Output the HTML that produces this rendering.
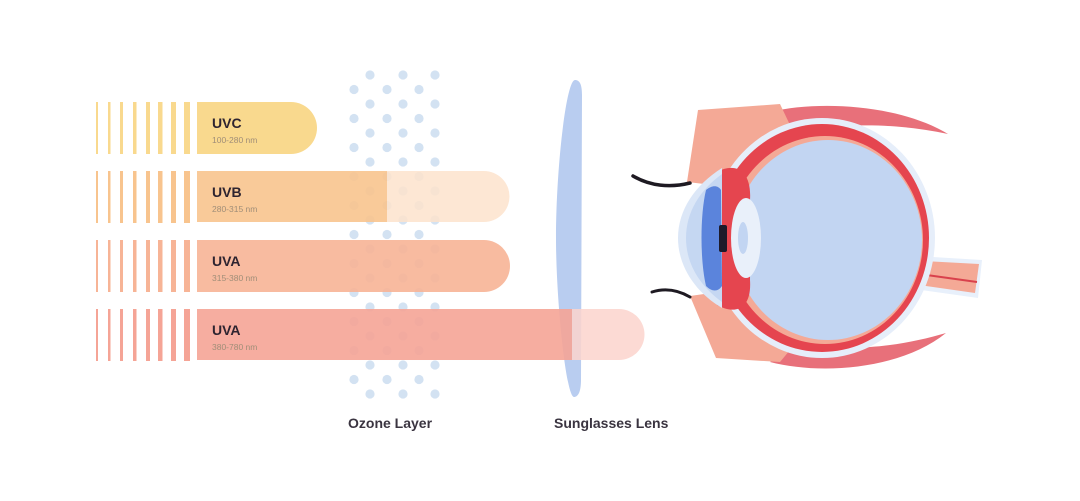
<!DOCTYPE html>
<html><head><meta charset="utf-8"><style>
html,body{margin:0;padding:0;background:#fff;}
svg{display:block;}
text{font-family:"Liberation Sans",sans-serif;}
</style></head><body>
<svg width="1080" height="501" viewBox="0 0 1080 501" xmlns="http://www.w3.org/2000/svg">
<rect width="1080" height="501" fill="#fff"/>
<defs>
<g id="stripes">
<rect x="96" width="2" height="52"/>
<rect x="108" width="2.5" height="52"/>
<rect x="120" width="3" height="52"/>
<rect x="133" width="3.5" height="52"/>
<rect x="146" width="4" height="52"/>
<rect x="158" width="4.5" height="52"/>
<rect x="171" width="5" height="52"/>
<rect x="184" width="6" height="52"/>
</g>
<g id="rowA"><circle cx="370" cy="0" r="4.6"/><circle cx="403" cy="0" r="4.6"/><circle cx="435" cy="0" r="4.6"/></g>
<g id="rowB"><circle cx="354" cy="0" r="4.6"/><circle cx="387" cy="0" r="4.6"/><circle cx="419" cy="0" r="4.6"/></g>
</defs>
<!-- ozone dots -->
<g fill="#d3e2f2">
<use href="#rowA" y="75"/><use href="#rowB" y="89.5"/>
<use href="#rowA" y="104"/><use href="#rowB" y="118.5"/>
<use href="#rowA" y="133"/><use href="#rowB" y="147.5"/>
<use href="#rowA" y="162"/><use href="#rowB" y="176.5"/>
<use href="#rowA" y="191"/><use href="#rowB" y="205.5"/>
<use href="#rowA" y="220"/><use href="#rowB" y="234.5"/>
<use href="#rowA" y="249"/><use href="#rowB" y="263.5"/>
<use href="#rowA" y="278"/><use href="#rowB" y="292.5"/>
<use href="#rowA" y="307"/><use href="#rowB" y="321.5"/>
<use href="#rowA" y="336"/><use href="#rowB" y="350.5"/>
<use href="#rowA" y="365"/><use href="#rowB" y="379.5"/>
<use href="#rowA" y="394"/>
</g>
<!-- lens -->
<path d="M575 80 C580 80 582 85 582 95 L581 380 C581 392 578 397 574 397 C566 397 556 300 556 238 C556 170 566 80 575 80 Z" fill="#b9cdf0"/>
<!-- UVC -->
<g fill="#f9d98e" transform="translate(0,102)"><use href="#stripes"/></g>
<path d="M197 102 H291 A26 26 0 0 1 291 154 H197 Z" fill="#f9d98e"/>
<!-- UVB -->
<g fill="#f8c48e" transform="translate(0,171)"><use href="#stripes"/></g>
<path d="M387 171 H484 A25.5 25.5 0 0 1 484 222 H387 Z" fill="#fde3cc" opacity="0.85"/>
<rect x="197" y="171" width="190" height="51" fill="#f8c48e" opacity="0.9"/>
<!-- UVA -->
<g fill="#f7b496" transform="translate(0,240)"><use href="#stripes"/></g>
<path d="M197 240 H484 A26 26 0 0 1 484 292 H197 Z" fill="#f7b496" opacity="0.9"/>
<!-- UVA 2 -->
<g fill="#f5a496" transform="translate(0,309)"><use href="#stripes"/></g>
<path d="M572 309 H619 A25.5 25.5 0 0 1 619 360 H572 Z" fill="#fbd3cd" opacity="0.85"/>
<rect x="197" y="309" width="375" height="51" fill="#f5a496" opacity="0.9"/>
<!-- labels -->
<g fill="#2e2430" font-weight="bold">
<text x="212" y="128" font-size="14">UVC</text>
<text x="212" y="197" font-size="14">UVB</text>
<text x="212" y="266" font-size="14">UVA</text>
<text x="212" y="335" font-size="14">UVA</text>
</g>
<g fill="#a08e78" font-size="8.5">
<text x="212" y="143">100-280 nm</text>
<text x="212" y="212">280-315 nm</text>
<text x="212" y="281">315-380 nm</text>
<text x="212" y="350">380-780 nm</text>
</g>
<text x="348" y="428" font-size="14" font-weight="bold" fill="#3a3440">Ozone Layer</text>
<text x="554" y="428" font-size="14" font-weight="bold" fill="#3a3440">Sunglasses Lens</text>
<!-- eye -->
<path d="M770 112 C820 100 900 105 948 134 C905 125 860 122 800 130 Z" fill="#e8707a"/>
<path d="M770 362 C820 375 900 370 946 333 C905 345 860 352 800 345 Z" fill="#e8707a"/>
<path d="M687 182 L698 110 L780 104 L790 125 L722 186 Z" fill="#f4a996"/>
<path d="M690 296 L718 292 L790 350 L780 362 L716 358 Z" fill="#f4a996"/>
<path d="M900 255 L982 260 L978 298 L900 287 Z" fill="#e8f0fb"/>
<path d="M905 260 L979 264 L975 293 L905 283 Z" fill="#f4a996"/>
<path d="M905 272 L977 282" stroke="#d9414c" stroke-width="2"/>
<ellipse cx="822" cy="238" rx="113" ry="120" fill="#e6eefa"/>
<ellipse cx="822" cy="238" rx="107" ry="114" fill="#e5454f"/>
<ellipse cx="825" cy="240" rx="98" ry="104" fill="#f4a996"/>
<ellipse cx="828" cy="240" rx="94" ry="100" fill="#c2d5f2"/>
<path d="M717 172 C735 162 752 170 750 200 L750 280 C752 310 735 315 717 305 Z" fill="#e5454f"/>
<path d="M722 168 C695 185 678 210 678 238 C678 266 695 292 722 308 Z" fill="#dce7f7"/>
<path d="M722 174 C700 190 686 212 686 238 C686 264 700 286 722 302 Z" fill="#c5d7f2"/>
<path d="M706 190 C712 185 718 185 721 190 L722 286 C718 292 712 292 706 286 C700 260 700 215 706 190 Z" fill="#5b84dc"/>
<rect x="719" y="225" width="8" height="27" rx="2" fill="#1d1a2a"/>
<ellipse cx="746" cy="238" rx="15" ry="40" fill="#e9f0fa"/>
<ellipse cx="743" cy="238" rx="5" ry="16" fill="#c2d5f2"/>
<path d="M633 176 C650 186 670 188 690 183" stroke="#1e1a22" stroke-width="3.5" fill="none" stroke-linecap="round"/>
<path d="M652 292 C665 288 678 290 690 297" stroke="#1e1a22" stroke-width="3" fill="none" stroke-linecap="round"/>
</svg>
</body></html>
